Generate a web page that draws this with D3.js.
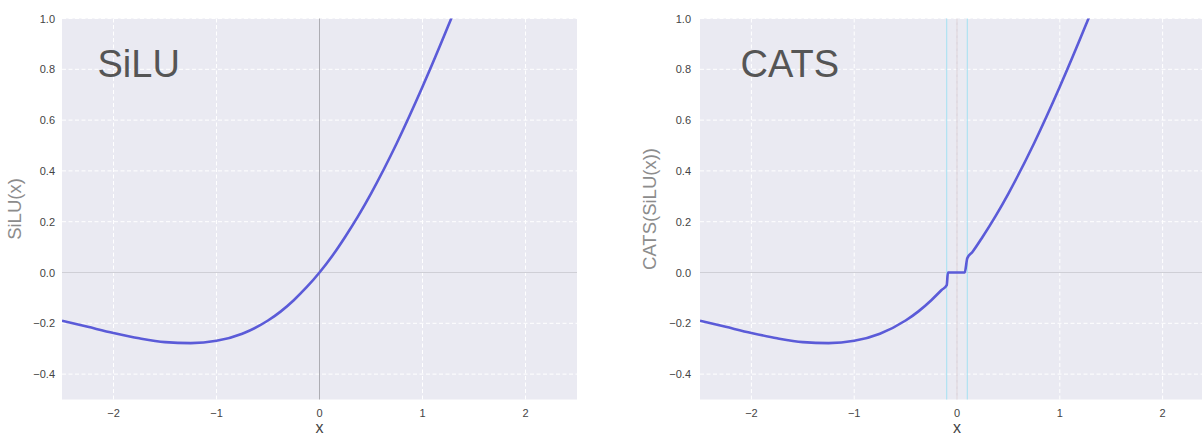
<!DOCTYPE html>
<html>
<head>
<meta charset="utf-8">
<script src="https://cdn.jsdelivr.net/npm/d3@7"></script>
<style>
  body { margin: 0; background: #fff; }
  svg { display: block; font-family: "Liberation Sans", Arial, sans-serif; }
</style>
</head>
<body>
<div id="chart"></div>
<script>
// values
const siluX = [-2.5, -2.25, -2, -1.75, -1.5, -1.25, -1, -0.75, -0.5, -0.375, -0.25, -0.125, 0,
  0.125, 0.25, 0.375, 0.5, 0.75, 1, 1.25, 1.5];
const siluY = [-0.19, -0.214, -0.238, -0.259, -0.274, -0.278, -0.269, -0.241, -0.189, -0.153, -0.109, -0.058, 0,
  0.066, 0.141, 0.222, 0.311, 0.509, 0.731, 0.971, 1.226];

const catsX = [-2.5, -2.25, -2, -1.75, -1.5, -1.25, -1, -0.75, -0.5, -0.375, -0.25, -0.15, -0.1, -0.088,
  0.075, 0.1, 0.15, 0.25, 0.375, 0.5, 0.75, 1, 1.25, 1.5];
const catsY = [-0.19, -0.214, -0.238, -0.259, -0.274, -0.278, -0.269, -0.241, -0.189, -0.153, -0.109, -0.069, -0.05, 0,
  0, 0.056, 0.081, 0.141, 0.222, 0.311, 0.509, 0.731, 0.971, 1.226];

const xTicks = [-2, -1, 0, 1, 2];
const yTicks = [-0.4, -0.2, 0.0, 0.2, 0.4, 0.6, 0.8, 1.0];
const catsThresholds = [-0.1, 0.1];

const panels = [
  { title: "SiLU", ylabel: "SiLU(x)", xs: siluX, ys: siluY, left: 62, right: 577, ylabX: 15, tickPad: 7, cats: false },
  { title: "CATS", ylabel: "CATS(SiLU(x))", xs: catsX, ys: catsY, left: 700, right: 1214, ylabX: 650, tickPad: 9, cats: true }
];

const W = 1202, H = 436;
const plotTop = 18.5, plotBottom = 399.5;
const fmtMinus = s => s.replace("-", "\u2212");

const svg = d3.select("#chart").append("svg").attr("width", W).attr("height", H);

panels.forEach((p, i) => {
  const x = d3.scaleLinear().domain([-2.5, 2.5]).range([p.left, p.right]);
  const y = d3.scaleLinear().domain([-0.5, 1.0]).range([plotBottom, plotTop]);

  const g = svg.append("g");

  g.append("clipPath").attr("id", "clip" + i)
    .append("rect")
    .attr("x", p.left).attr("y", plotTop)
    .attr("width", p.right - p.left).attr("height", plotBottom - plotTop);

  g.append("rect")
    .attr("x", p.left).attr("y", plotTop)
    .attr("width", p.right - p.left).attr("height", plotBottom - plotTop)
    .attr("fill", "#eaeaf2");

  // grid
  g.selectAll(".gx").data(xTicks).join("line")
    .attr("x1", d => x(d)).attr("x2", d => x(d))
    .attr("y1", plotTop).attr("y2", plotBottom)
    .attr("stroke", "#fff").attr("stroke-width", 1).attr("stroke-dasharray", "4,2.5");
  g.selectAll(".gy").data(yTicks).join("line")
    .attr("x1", p.left).attr("x2", p.right)
    .attr("y1", d => y(d)).attr("y2", d => y(d))
    .attr("stroke", "#fff").attr("stroke-width", 1).attr("stroke-dasharray", "4,2.5");

  // zero lines
  g.append("line")
    .attr("x1", p.left).attr("x2", p.right)
    .attr("y1", y(0)).attr("y2", y(0))
    .attr("stroke", "#cfcfd6").attr("stroke-width", 1.2);
  g.append("line")
    .attr("x1", x(0)).attr("x2", x(0))
    .attr("y1", plotTop).attr("y2", plotBottom)
    .attr("stroke", p.cats ? "#d6cbd3" : "#adadb3").attr("stroke-width", 1);

  if (p.cats) {
    g.selectAll(".thr").data(catsThresholds).join("line")
      .attr("x1", d => x(d)).attr("x2", d => x(d))
      .attr("y1", plotTop).attr("y2", plotBottom)
      .attr("stroke", "#a3e1f3").attr("stroke-width", 1);
  }

  const pts = p.xs.map((v, k) => [v, p.ys[k]]);
  const line = d3.line()
    .x(d => x(d[0])).y(d => y(d[1]))
    .curve(d3.curveMonotoneX);

  g.append("path")
    .datum(pts)
    .attr("clip-path", `url(#clip${i})`)
    .attr("d", line)
    .attr("fill", "none")
    .attr("stroke", "#5b5bd8")
    .attr("stroke-width", 2.6)
    .attr("stroke-linejoin", "round");

  // tick labels
  g.selectAll(".xt").data(xTicks).join("text")
    .attr("x", d => x(d)).attr("y", 417)
    .attr("text-anchor", "middle")
    .attr("font-size", 11).attr("fill", "#444")
    .text(d => fmtMinus(d3.format("d")(d)));
  g.selectAll(".yt").data(yTicks).join("text")
    .attr("x", p.left - p.tickPad).attr("y", d => y(d) + 4)
    .attr("text-anchor", "end")
    .attr("font-size", 11).attr("fill", "#444")
    .text(d => fmtMinus(d3.format(".1f")(d)));

  // axis labels
  g.append("text")
    .attr("x", x(0)).attr("y", 433)
    .attr("text-anchor", "middle")
    .attr("font-size", 16).attr("fill", "#444")
    .text("x");
  g.append("text")
    .attr("transform", `translate(${p.ylabX + 6},${(plotTop + plotBottom) / 2}) rotate(-90)`)
    .attr("text-anchor", "middle")
    .attr("font-size", 18.5).attr("fill", "#8c8c8c")
    .text(p.ylabel);

  // panel title
  g.append("text")
    .attr("x", p.left + (p.cats ? 40.5 : 35.5)).attr("y", 77)
    .attr("font-size", 38).attr("fill", "#555")
    .text(p.title);
});
</script>
</body>
</html>
